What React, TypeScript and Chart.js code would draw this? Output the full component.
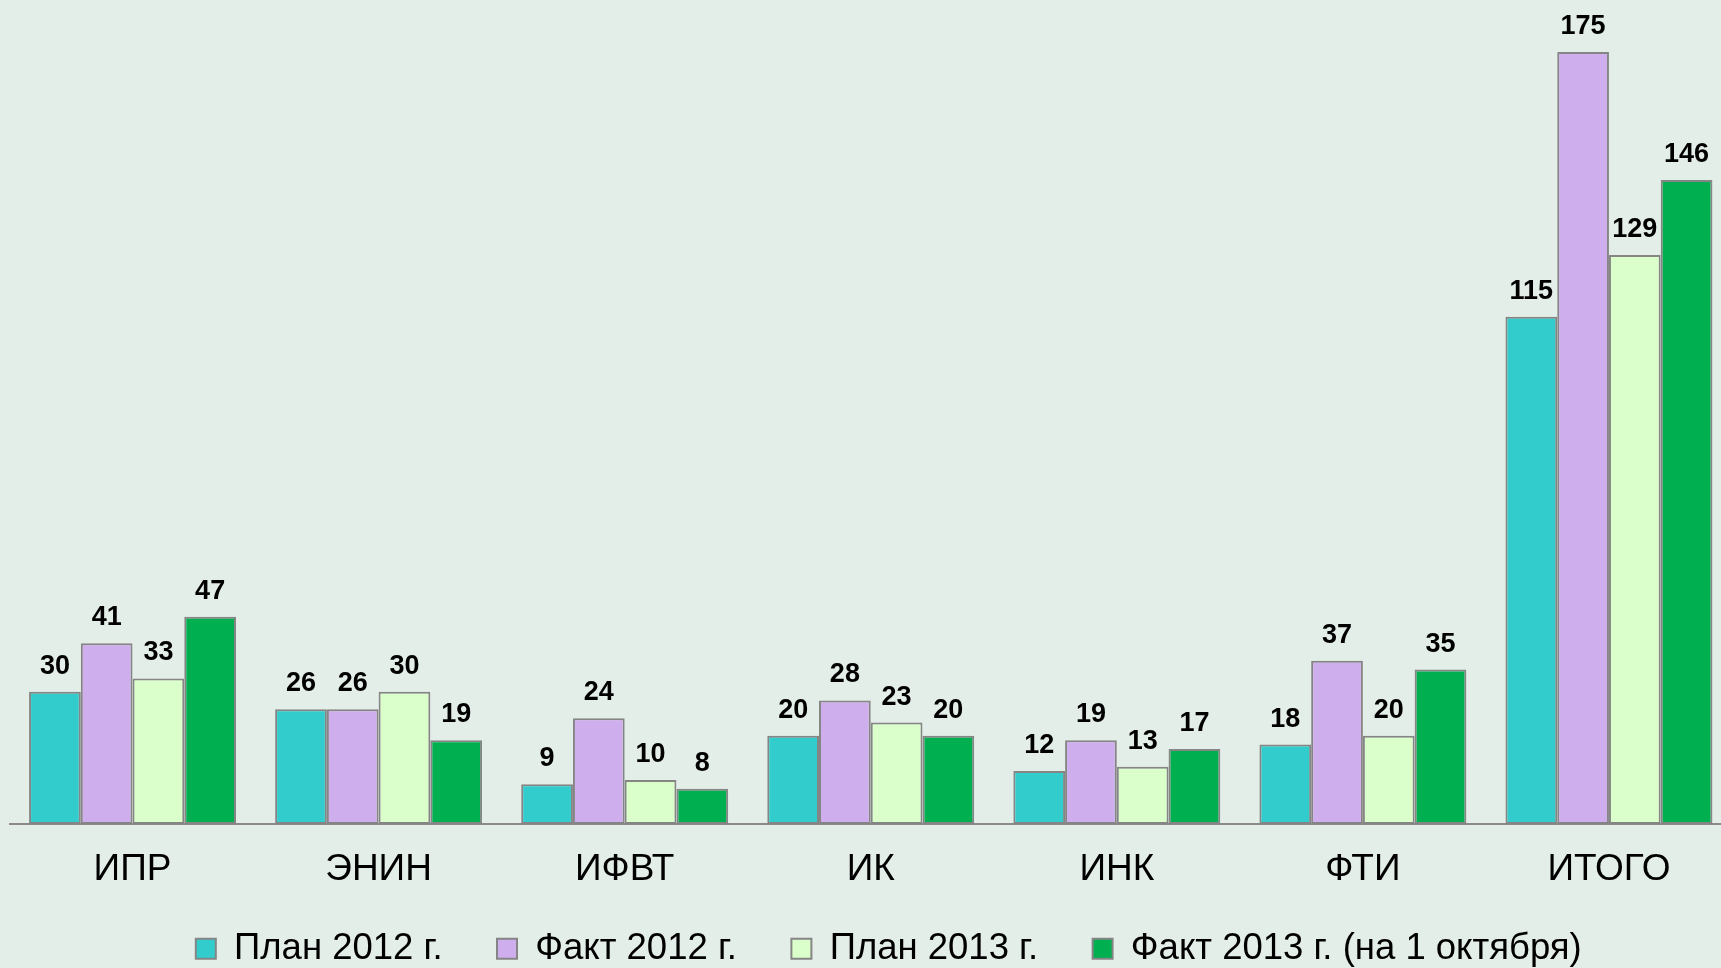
import React, { useEffect, useRef } from "react";
import { Chart, registerables } from "chart.js";

Chart.register(...registerables);

const categories = ["ИПР", "ЭНИН", "ИФВТ", "ИК", "ИНК", "ФТИ", "ИТОГО"];
const seriesNames = ["План 2012 г.", "Факт 2012 г.", "План 2013 г.", "Факт 2013 г. (на 1 октября)"];
const plan2012 = [30, 26, 9, 20, 12, 18, 115];
const fact2012 = [41, 26, 24, 28, 19, 37, 175];
const plan2013 = [33, 30, 10, 23, 13, 20, 129];
const fact2013 = [47, 19, 8, 20, 17, 35, 146];
const seriesColors = ["#33CCCC", "#CFAEED", "#DBFFCA", "#00B050"];

const FONT = '"Liberation Sans", Arial, sans-serif';
const BG = "#E4EEE8";

const valueLabels = {
  id: "valueLabels",
  afterDatasetsDraw(chart: any) {
    const ctx = chart.ctx;
    ctx.save();
    ctx.font = `bold 27px ${FONT}`;
    ctx.fillStyle = "#000";
    ctx.textAlign = "center";
    ctx.textBaseline = "alphabetic";
    chart.data.datasets.forEach((ds: any, i: number) => {
      const meta = chart.getDatasetMeta(i);
      meta.data.forEach((bar: any, j: number) => {
        ctx.fillText(String(ds.data[j]), bar.x, bar.y - 18);
      });
    });
    ctx.restore();
  },
};

const legendShift = {
  id: "legendShift",
  afterLayout(chart: any) {
    const l = chart.legend;
    if (l) {
      l.left += 18;
      l.right += 18;
      l.top -= 19;
      l.bottom -= 19;
    }
  },
};

export default function App() {
  const ref = useRef<HTMLCanvasElement | null>(null);
  useEffect(() => {
    document.body.style.margin = "0";
    document.body.style.overflow = "hidden";
    document.body.style.background = BG;
    const canvas = ref.current;
    if (!canvas) return;
    const allSeries = [plan2012, fact2012, plan2013, fact2013];
    const chart = new Chart(canvas, {
      type: "bar",
      data: {
        labels: categories,
        datasets: allSeries.map((d, i) => ({
          label: seriesNames[i],
          data: d,
          backgroundColor: seriesColors[i],
          borderColor: "#858585",
          borderWidth: 2,
          borderSkipped: false,
          categoryPercentage: 0.841,
          barPercentage: 1,
        })),
      },
      options: {
        animation: false,
        responsive: false,
        devicePixelRatio: 1,
        layout: { padding: { left: 9.5, right: 0, top: 0, bottom: -28 } },
        plugins: {
          tooltip: { enabled: false },
          legend: {
            position: "bottom",
            labels: {
              font: { family: FONT, size: 36.5 },
              color: "#000",
              boxWidth: 20,
              boxHeight: 20,
              padding: 54.5,
            },
          },
        },
        scales: {
          x: {
            grid: { display: false, drawTicks: false },
            border: { display: true, color: "#8A8A8A", width: 2 },
            ticks: {
              font: { family: FONT, size: 37 },
              color: "#000",
              padding: 23.5,
            },
            afterFit: (scale: any) => {
              scale.height = 71;
            },
          },
          y: {
            display: false,
            min: 0,
            max: 186.8,
          },
        },
      },
      plugins: [valueLabels, legendShift],
    });
    return () => chart.destroy();
  }, []);
  return (
    <div style={{ width: 1721, height: 968, overflow: "hidden", background: BG }}>
      <canvas ref={ref} width={1732} height={968} style={{ display: "block" }} />
    </div>
  );
}
